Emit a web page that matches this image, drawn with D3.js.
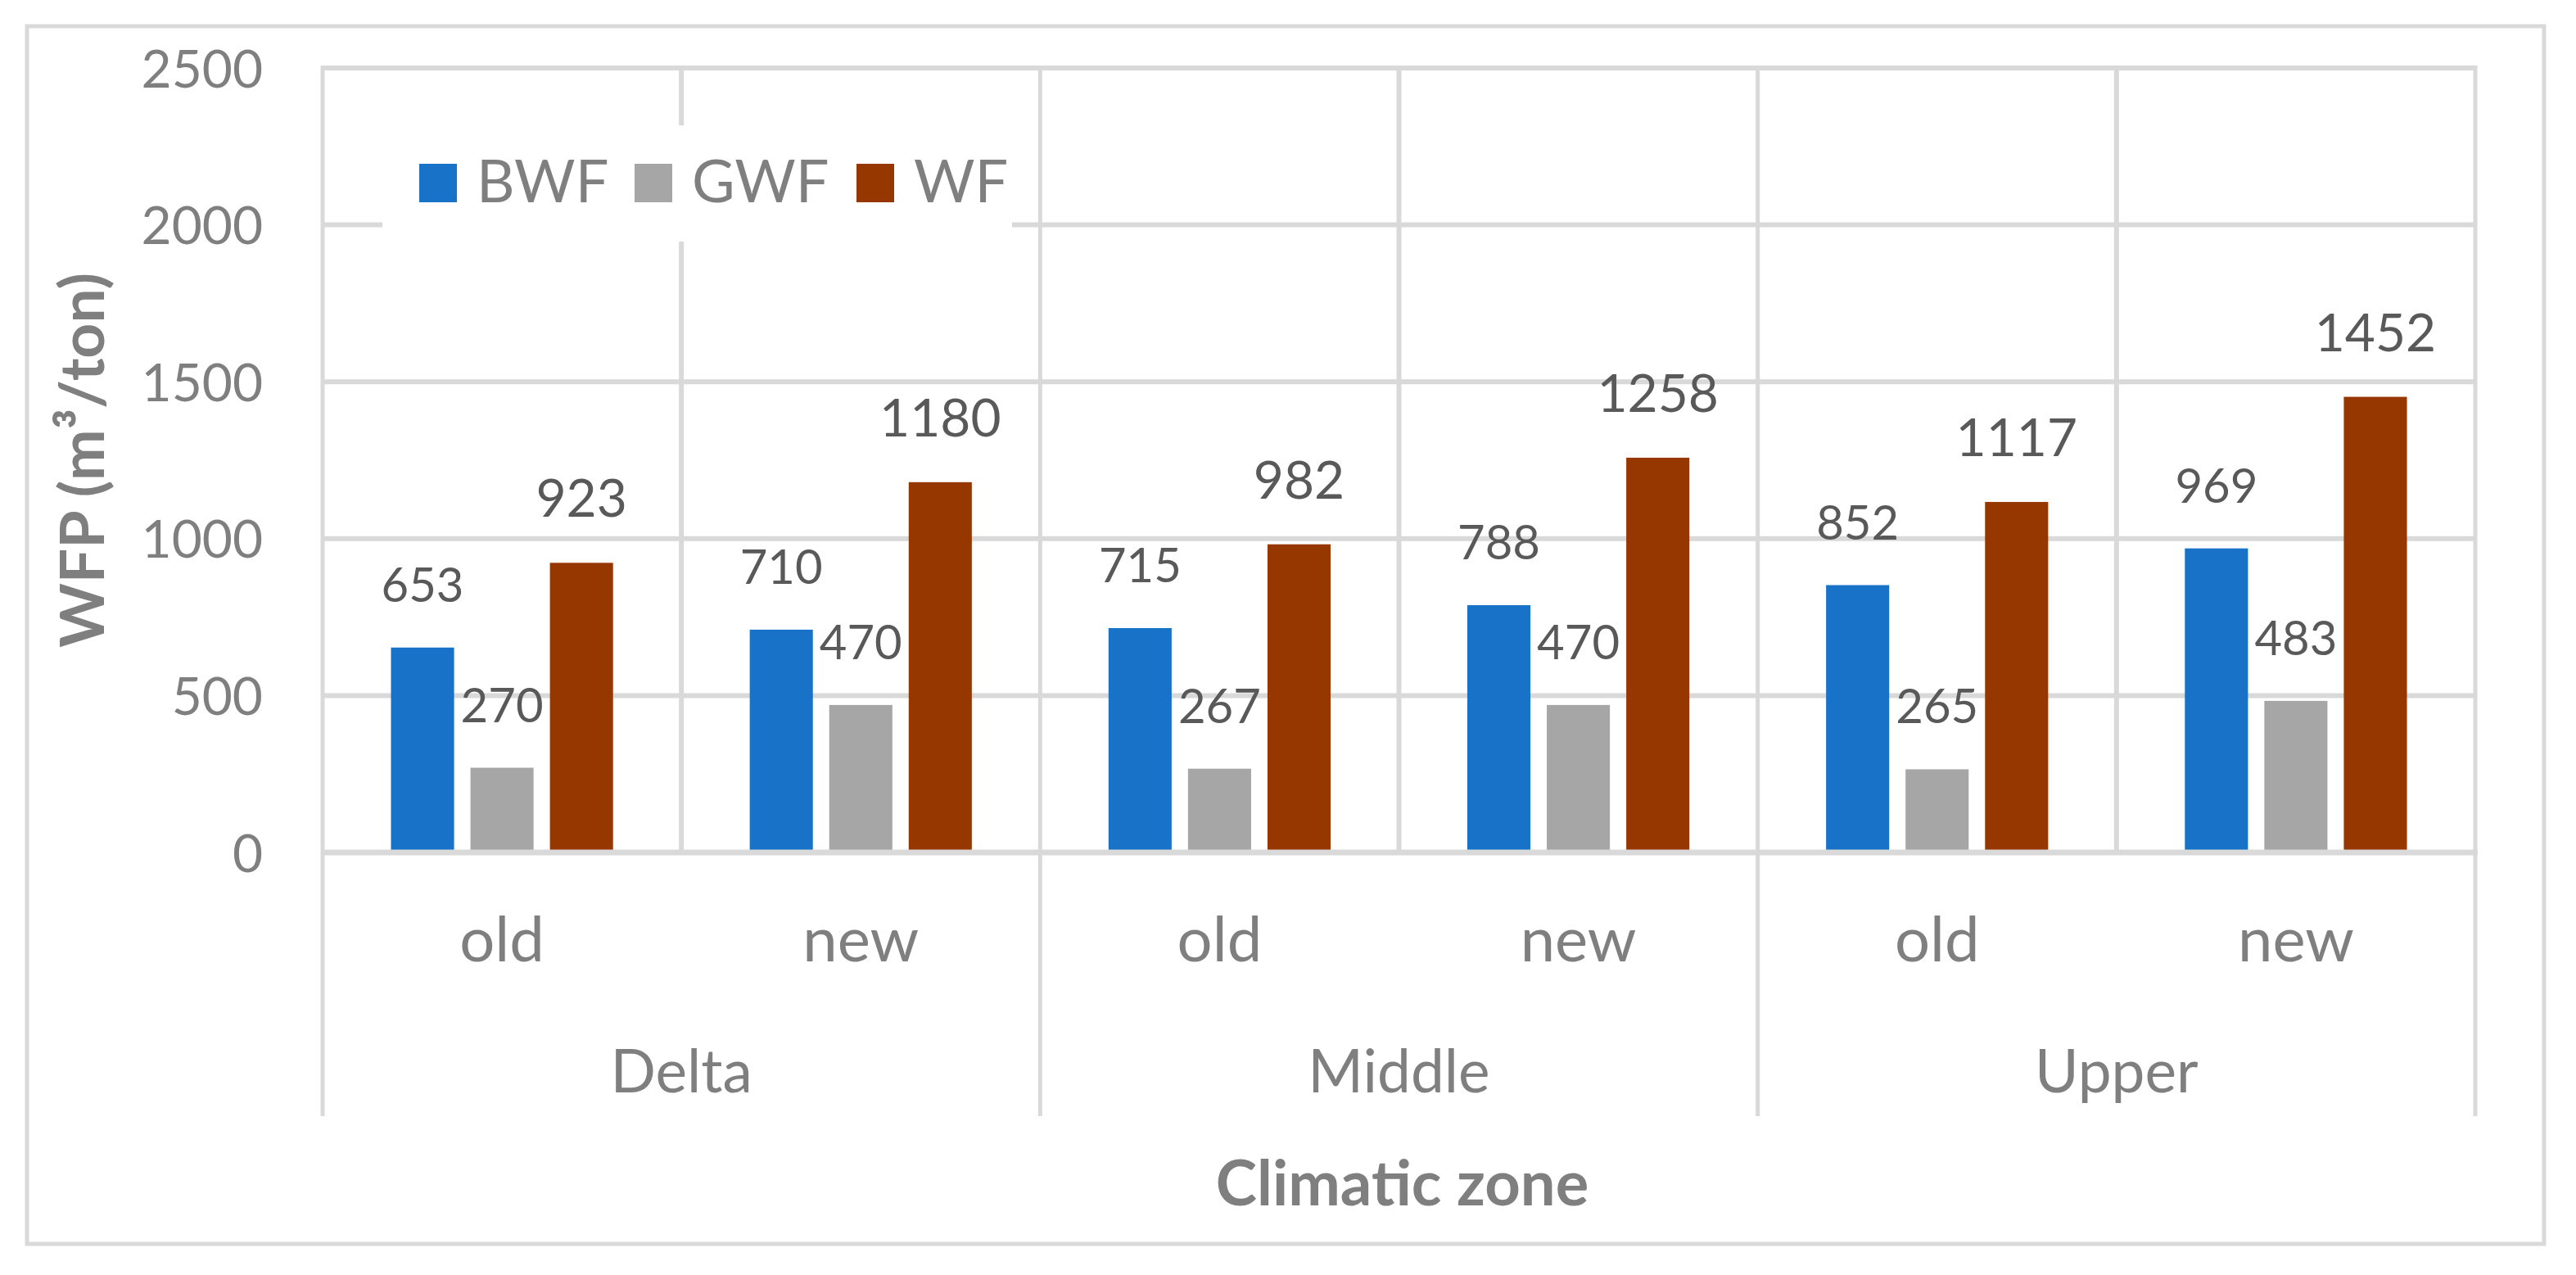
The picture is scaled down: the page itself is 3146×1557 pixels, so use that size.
<!DOCTYPE html>
<html>
<head>
<meta charset="utf-8">
<script src="https://cdn.jsdelivr.net/npm/d3@7"></script>
<style>
  body { margin: 0; background: #fff; }
  text { font-family: Lato, "Open Sans", sans-serif; }
</style>
</head>
<body>
<div id="wrapper"></div>
<script>
// chart data
const zones = ["Delta", "Middle", "Upper"];
const ages = ["old", "new"];
const seriesNames = ["BWF", "GWF", "WF"];
const bwf = [653, 710, 715, 788, 852, 969];
const gwf = [270, 470, 267, 470, 265, 483];
const wf = [923, 1180, 982, 1258, 1117, 1452];
const yTicks = [0, 500, 1000, 1500, 2000, 2500];

const width = 3146;
const height = 1557;
const grid = "#d9d9d9";
const colors = d3.scaleOrdinal().domain(seriesNames).range(["#1873c8", "#a6a6a6", "#973700"]);
// WF labels are set a size up from the other two
const labelSize = d3.scaleOrdinal().domain(seriesNames).range(["58px", "58px", "64px"]);

// plot area
const plotLeft = 394, plotRight = 3023, plotTop = 83, plotBottom = 1041, catBottom = 1363;

const svg = d3.select("#wrapper")
              .append("svg")
              .attr("width", width)
              .attr("height", height);

svg.append("rect")
   .attr("width", width).attr("height", height)
   .attr("fill", "#fff");

// outer chart border
svg.append("rect")
   .attr("x", 33).attr("y", 32)
   .attr("width", 3107 - 33).attr("height", 1519 - 32)
   .attr("fill", "none")
   .attr("stroke", grid)
   .attr("stroke-width", 5);

// build rows from the arrays
const rows = [];
zones.forEach((z, zi) => {
  ages.forEach((a, ai) => {
    let i = zi * ages.length + ai;
    rows.push({ key: z + "-" + a, zone: z, age: a, BWF: bwf[i], GWF: gwf[i], WF: wf[i] });
  });
});

const x0 = d3.scaleBand()
             .domain(rows.map(d => d.key))
             .range([plotLeft, plotRight]);
const xZone = d3.scaleBand()
                .domain(zones)
                .range([plotLeft, plotRight]);
const x1 = d3.scaleBand()
             .domain(seriesNames)
             .range([0, x0.bandwidth()])
             .paddingInner(0.206)
             .paddingOuter(0.86);
const y = d3.scaleLinear()
            .domain([0, 2500])
            .range([plotBottom, plotTop]);

// horizontal gridlines
svg.append("g")
   .selectAll("line")
   .data(yTicks.filter(d => d > 0))
   .enter().append("line")
   .attr("x1", plotLeft).attr("x2", plotRight)
   .attr("y1", d => y(d)).attr("y2", d => y(d))
   .attr("stroke", grid)
   .attr("stroke-width", 6);

// vertical lines between old/new (inside plot only)
svg.append("g")
   .selectAll("line")
   .data(rows.filter((d, i) => i % 2 == 1))
   .enter().append("line")
   .attr("x1", d => x0(d.key)).attr("x2", d => x0(d.key))
   .attr("y1", plotTop - 3).attr("y2", plotBottom)
   .attr("stroke", grid)
   .attr("stroke-width", 6);

// zone boundaries run down through the category axis
const zoneEdges = zones.map(z => xZone(z)).concat([plotRight]);
svg.append("g")
   .selectAll("line")
   .data(zoneEdges)
   .enter().append("line")
   .attr("x1", d => d).attr("x2", d => d)
   .attr("y1", plotTop - 3).attr("y2", catBottom)
   .attr("stroke", grid)
   .attr("stroke-width", 5);

// legend box (white, covers the gridlines under it)
const legend = svg.append("g");
legend.append("rect")
      .attr("x", 467).attr("y", 153)
      .attr("width", 1236 - 467).attr("height", 295 - 153)
      .attr("fill", "#fff");

const legendPos = [512, 775, 1046];
const legendItem = legend.selectAll("g.item")
      .data(seriesNames)
      .enter().append("g")
      .attr("class", "item")
      .attr("transform", (d, i) => "translate(" + legendPos[i] + ",200)");
legendItem.append("rect")
      .attr("width", 46).attr("height", 47)
      .attr("fill", d => colors(d));
legendItem.append("text")
      .attr("x", 70).attr("y", 47)
      .attr("font-size", "72px")
      .attr("fill", "#7f7f7f")
      .text(d => d);

// bars
const groups = svg.append("g")
   .selectAll("g")
   .data(rows)
   .enter().append("g")
   .attr("transform", d => "translate(" + x0(d.key) + ",0)");

groups.selectAll("rect")
   .data(d => seriesNames.map(s => ({ s: s, v: d[s] })))
   .enter().append("rect")
   .attr("x", d => x1(d.s))
   .attr("y", d => y(d.v))
   .attr("width", x1.bandwidth())
   .attr("height", d => y(0) - y(d.v))
   .attr("fill", d => colors(d.s));

groups.selectAll("text")
   .data(d => seriesNames.map(s => ({ s: s, v: d[s] })))
   .enter().append("text")
   .attr("x", d => x1(d.s) + x1.bandwidth() / 2)
   .attr("y", d => y(d.v) - 56)
   .attr("text-anchor", "middle")
   .attr("font-size", d => labelSize(d.s))
   .attr("fill", "#595959")
   .text(d => d.v);

// zero axis line
svg.append("line")
   .attr("x1", plotLeft).attr("x2", plotRight + 3)
   .attr("y1", y(0)).attr("y2", y(0))
   .attr("stroke", grid)
   .attr("stroke-width", 7);

// y axis labels
const yAxis = d3.axisLeft(y)
                .tickValues(yTicks)
                .tickFormat(d3.format("d"))
                .tickSize(0)
                .tickPadding(plotLeft - 321);
const yg = svg.append("g")
   .attr("transform", "translate(" + plotLeft + ",0)")
   .call(yAxis);
yg.select(".domain").remove();
yg.selectAll("text")
  .attr("font-family", "Lato, sans-serif")
  .attr("font-size", "64px")
  .attr("fill", "#7f7f7f")
  .attr("dy", "0.36em");

// category labels: old / new
svg.append("g")
   .selectAll("text")
   .data(rows)
   .enter().append("text")
   .attr("x", d => x0(d.key) + x0.bandwidth() / 2)
   .attr("y", 1174)
   .attr("text-anchor", "middle")
   .attr("font-size", "76px")
   .attr("fill", "#7f7f7f")
   .text(d => d.age);

// zone labels
svg.append("g")
   .selectAll("text")
   .data(zones)
   .enter().append("text")
   .attr("x", d => xZone(d) + xZone.bandwidth() / 2)
   .attr("y", 1334)
   .attr("text-anchor", "middle")
   .attr("font-size", "73px")
   .attr("fill", "#7f7f7f")
   .text(d => d);

// axis titles
svg.append("text")
   .attr("x", (plotLeft + plotRight) / 2 + 4)
   .attr("y", 1472)
   .attr("text-anchor", "middle")
   .attr("font-size", "76px")
   .attr("font-weight", "bold")
   .attr("fill", "#7f7f7f")
   .text("Climatic zone");

svg.append("text")
   .attr("transform", "translate(127,562) rotate(-90)")
   .attr("text-anchor", "middle")
   .attr("font-size", "75px")
   .attr("font-weight", "bold")
   .attr("fill", "#7f7f7f")
   .text("WFP (m³/ton)");
</script>
</body>
</html>
